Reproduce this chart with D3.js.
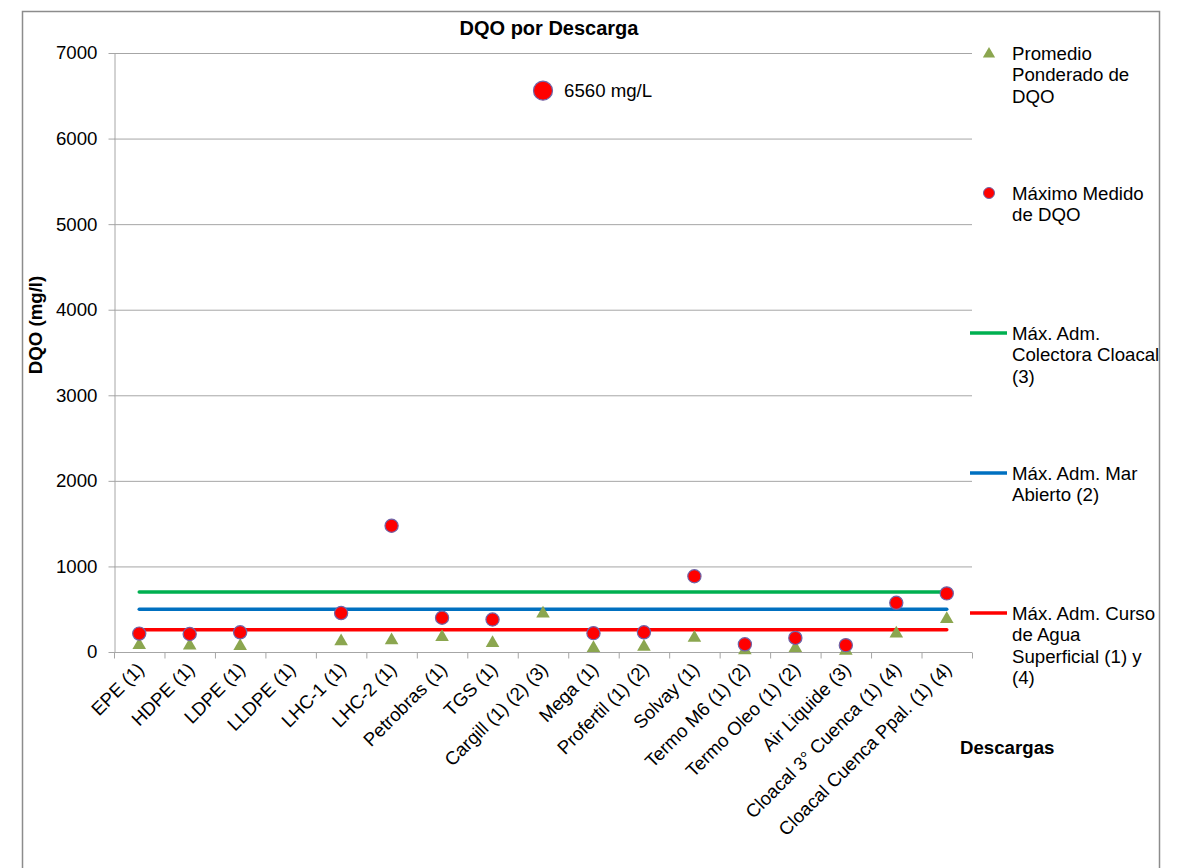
<!DOCTYPE html>
<html>
<head>
<meta charset="utf-8">
<script src="https://cdn.jsdelivr.net/npm/d3@7"></script>
<style>
  html, body { margin: 0; padding: 0; background: #fff; }
  svg { display: block; font-family: "Liberation Sans", Arial, sans-serif; }
</style>
</head>
<body>
<svg id="chart" width="1178" height="868"></svg>
<script>
// Discharge points along the x axis
const categories = [
  "EPE (1)", "HDPE (1)", "LDPE (1)", "LLDPE (1)", "LHC-1 (1)", "LHC-2 (1)",
  "Petrobras  (1)", "TGS (1)", "Cargill (1) (2) (3)", "Mega (1)", "Profertil (1) (2)",
  "Solvay (1)", "Termo M6 (1) (2)", "Termo Oleo (1) (2)", "Air Liquide (3)",
  "Cloacal 3° Cuenca (1) (4)", "Cloacal Cuenca Ppal. (1) (4)"
];

// Weighted average COD per discharge (mg/l); null = no data
const promedio = [80, 75, 70, null, 125, 135, 175, 105, 450, 45, 60, 165, 20, 45, 15, 215, 385];

// Maximum measured COD per discharge (mg/l); null = no data
const maximo = [215, 210, 230, null, 455, 1475, 400, 380, 6560, 220, 230, 885, 90, 165, 80, 575, 685];

// Admissible limits (mg/l)
const limiteCloacal = 700;
const limiteMar = 500;
const limiteCurso = 260;

const yTicks = [0, 1000, 2000, 3000, 4000, 5000, 6000, 7000];

const FS = 18.67;       // 14pt body text
const FS_TITLE = 20;    // 15pt title

const svg = d3.select("#chart");

// outer chart frame
svg.append("rect")
  .attr("x", 22.5).attr("y", 11.5)
  .attr("width", 1137).attr("height", 900)
  .attr("fill", "none").attr("stroke", "#8c8c8c").attr("stroke-width", 1.5);

const plot = { left: 114, right: 972, top: 53, bottom: 652 };

const x = d3.scaleBand().domain(categories).range([plot.left, plot.right]).padding(0);
const y = d3.scaleLinear().domain([0, 7000]).range([plot.bottom, plot.top]);
const cx = d => x(d) + x.bandwidth() / 2;

// horizontal gridlines
svg.append("g")
  .selectAll("line")
  .data(yTicks.filter(t => t > 0))
  .join("line")
  .attr("x1", plot.left).attr("x2", plot.right)
  .attr("y1", d => y(d) + 0.5).attr("y2", d => y(d) + 0.5)
  .attr("stroke", "#a6a6a6").attr("stroke-width", 1);

// y axis
const yAxis = svg.append("g")
  .attr("transform", `translate(${plot.left + 0.5},0)`)
  .call(d3.axisLeft(y).tickValues(yTicks).tickFormat(d3.format("d"))
    .tickSize(6).tickPadding(11).tickSizeOuter(0));
yAxis.select(".domain").attr("stroke", "#a6a6a6");
yAxis.selectAll(".tick line").attr("stroke", "#a6a6a6");
yAxis.selectAll(".tick text")
  .attr("font-size", FS).attr("fill", "#000")
  .attr("font-family", "Liberation Sans, Arial, sans-serif");

// x axis with tick marks between categories
const xAxisG = svg.append("g").attr("transform", `translate(0,${plot.bottom + 0.5})`);
xAxisG.append("line")
  .attr("x1", plot.left).attr("x2", plot.right)
  .attr("stroke", "#a6a6a6");
const bounds = categories.map(c => x(c)).concat([plot.right]);
xAxisG.selectAll("line.tk")
  .data(bounds)
  .join("line")
  .attr("class", "tk")
  .attr("x1", d => d + 0.5).attr("x2", d => d + 0.5)
  .attr("y1", 0).attr("y2", 6)
  .attr("stroke", "#a6a6a6");
xAxisG.selectAll("text")
  .data(categories)
  .join("text")
  .attr("transform", d => `translate(${cx(d) + 6},${18}) rotate(-45)`)
  .attr("text-anchor", "end")
  .attr("font-size", FS)
  .attr("fill", "#000")
  .text(d => d);

// limit lines
const limits = [
  { v: limiteCloacal, color: "#00b050" },
  { v: limiteMar, color: "#0070c0" },
  { v: limiteCurso, color: "#ff0000" }
];
svg.append("g")
  .selectAll("line")
  .data(limits)
  .join("line")
  .attr("x1", cx(categories[0]))
  .attr("x2", cx(categories[categories.length - 1]))
  .attr("y1", d => y(d.v)).attr("y2", d => y(d.v))
  .attr("stroke", d => d.color).attr("stroke-width", 3.5)
  .attr("stroke-linecap", "round");

// triangle markers: weighted average
const tri = d3.symbol().type(d3.symbolTriangle).size(80);
const triColor = "#8ba64f";
svg.append("g")
  .selectAll("path")
  .data(categories.map((c, i) => ({ c, v: promedio[i] })).filter(d => d.v != null))
  .join("path")
  .attr("d", tri)
  .attr("transform", d => `translate(${cx(d.c)},${y(d.v)})`)
  .attr("fill", triColor);

// circle markers: maximum measured
const circColor = "#ff0000";
const circStroke = "#6f64a8";
svg.append("g")
  .selectAll("circle")
  .data(categories.map((c, i) => ({ c, v: maximo[i] })).filter(d => d.v != null))
  .join("circle")
  .attr("cx", d => cx(d.c))
  .attr("cy", d => y(d.v))
  .attr("r", d => d.v > 6000 ? 9.5 : 6.6)
  .attr("fill", circColor)
  .attr("stroke", circStroke)
  .attr("stroke-width", 1.2);

// value label of the outlier
const iOut = maximo.indexOf(d3.max(maximo));
svg.append("text")
  .attr("x", cx(categories[iOut]) + 21)
  .attr("y", y(maximo[iOut]) + 6.5)
  .attr("font-size", FS)
  .attr("fill", "#000")
  .text(`${maximo[iOut]} mg/L`);

// title and axis titles
svg.append("text")
  .attr("x", 549).attr("y", 35)
  .attr("text-anchor", "middle")
  .attr("font-size", FS_TITLE).attr("font-weight", "bold")
  .text("DQO por Descarga");

svg.append("text")
  .attr("transform", "translate(42,325) rotate(-90)")
  .attr("text-anchor", "middle")
  .attr("font-size", FS).attr("font-weight", "bold")
  .text("DQO (mg/l)");

svg.append("text")
  .attr("x", 960).attr("y", 754)
  .attr("font-size", FS).attr("font-weight", "bold")
  .text("Descargas");

// legend
const legend = svg.append("g").attr("font-size", FS).attr("fill", "#000");
const legendItems = [
  { type: "tri", y: 53, lines: ["Promedio", "Ponderado de", "DQO"] },
  { type: "circ", y: 193, lines: ["Máximo Medido", "de DQO"] },
  { type: "line", color: "#00b050", y: 333, lines: ["Máx. Adm.", "Colectora Cloacal", "(3)"] },
  { type: "line", color: "#0070c0", y: 473, lines: ["Máx. Adm. Mar", "Abierto (2)"] },
  { type: "line", color: "#ff0000", y: 613, lines: ["Máx. Adm. Curso", "de Agua", "Superficial (1) y", "(4)"] }
];
legendItems.forEach(it => {
  if (it.type === "tri") {
    legend.append("path").attr("d", d3.symbol().type(d3.symbolTriangle).size(65))
      .attr("transform", `translate(989,${it.y + 1})`).attr("fill", triColor);
  } else if (it.type === "circ") {
    legend.append("circle").attr("cx", 989).attr("cy", it.y).attr("r", 5.5)
      .attr("fill", circColor).attr("stroke", circStroke).attr("stroke-width", 1);
  } else {
    legend.append("line").attr("x1", 970).attr("x2", 1007)
      .attr("y1", it.y).attr("y2", it.y)
      .attr("stroke", it.color).attr("stroke-width", 3.5);
  }
  const t = legend.append("text").attr("x", 1012).attr("y", it.y + 6.5);
  it.lines.forEach((ln, k) => {
    t.append("tspan").attr("x", 1012).attr("dy", k === 0 ? 0 : 21.5).text(ln);
  });
});
</script>
</body>
</html>
